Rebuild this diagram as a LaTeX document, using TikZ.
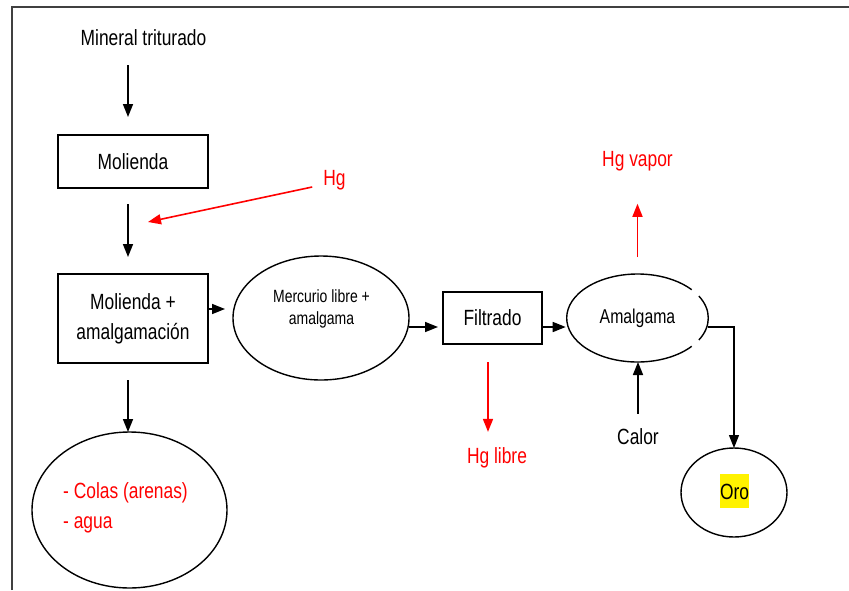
\documentclass[tikz,border=0pt]{standalone}
\usepackage{fontspec}
\setmainfont{Liberation Sans}[FakeStretch=0.79]
\usetikzlibrary{arrows.meta,shapes.geometric}
\tikzset{
  box/.style={draw,line width=1.3pt,inner sep=0pt,outer sep=0pt},
  ell/.style={ellipse,draw,line width=1.4pt,inner sep=0pt,outer sep=0pt},
  txt/.style={inner sep=0pt,anchor=base},
  arr/.style={line width=1.6pt,-{Triangle[length=13pt,width=10pt]}},
}
\begin{document}
\begin{tikzpicture}[x=1pt,y=-1pt,font=\fontsize{22}{30}\selectfont]
\useasboundingbox (0,0) rectangle (849,590);
\draw[line width=1.5pt,black!75](12,590)--(12,7)--(849,7);
%
\node[txt](min) at (143.5,45){Mineral triturado};
\node[box,minimum width=150pt,minimum height=53pt](mol) at (133,161.5){Molienda};
\node[box,minimum width=150pt,minimum height=89pt,align=center](molam) at (133,318.5){Molienda +\\amalgamación};
\node[txt,red](hg) at (334.5,185){Hg};
\coordinate(hgtip) at (148,222);
\node[ell,minimum width=176pt,minimum height=124pt](merc) at (321,318){};
\node[inner sep=0pt,align=center,font=\fontsize{17.7}{22}\selectfont](merct) at (321.5,309){Mercurio libre +\\amalgama};
\node[box,minimum width=99pt,minimum height=52pt](fil) at (492.5,318){Filtrado};
\node[ell,draw=none,minimum width=141.6pt,minimum height=88pt,font=\fontsize{20}{24}\selectfont](amal) at (637.5,318){Amalgama};
\draw[line width=1.4pt](amal.center)++(40:70.8 and 44) arc[start angle=40,end angle=320,x radius=70.8,y radius=44];
\draw[line width=1.4pt](amal.center)++(-30:70.8 and 44) arc[start angle=-30,end angle=30,x radius=70.8,y radius=44];
\node[txt,red](vap) at (637.5,166){Hg vapor};
\node[txt,red](libre) at (497,463){Hg libre};
\node[txt](calor) at (638,444){Calor};
\node[ell,minimum width=106pt,minimum height=89pt](oro) at (734,492.5){};
\node[fill=yellow,inner xsep=0pt,inner ysep=9pt,text height=16pt,text depth=0pt](orot) at (734.5,491){Oro};
\node[ell,minimum width=195pt,minimum height=156pt](colas) at (129.5,510){};
\node[red,inner sep=0pt,anchor=west,align=left](colast) at (63,508){- Colas (arenas)\\- agua};
%
\draw[arr,shorten <=20pt,shorten >=18pt]([xshift=-5pt]mol.north |- min.south)--([xshift=-5pt]mol.north);
\draw[arr,shorten <=16pt,shorten >=17pt]([xshift=-5pt]mol.south)--([xshift=-5pt]molam.north);
\draw[arr,red]([xshift=-11pt,yshift=-2pt]hg.base west)--(hgtip);
\draw[arr,shorten >=8pt]([yshift=9.5pt]molam.east)--([yshift=9.5pt]molam.east -| merc.west);
\draw[arr,shorten >=5pt]([yshift=-9pt]merc.east)--([yshift=-9pt]merc.east -| fil.west);
\draw[arr,shorten >=1pt]([yshift=-9pt]fil.east)--([yshift=-9pt]fil.east -| amal.west);
\draw[arr,red,shorten <=17pt,shorten >=33pt](amal.north)--(amal.north |- vap.south);
\draw[arr,red,shorten <=18pt,shorten >=15pt]([xshift=-4.5pt]fil.south)--([xshift=-4.5pt]fil.south |- libre.north);
\draw[arr,shorten <=14pt](calor.north)--(calor.north |- amal.south);
\draw[arr,line width=1.2pt]([yshift=-9pt]amal.east)-|(oro.north);
\draw[arr,shorten <=17pt]([xshift=-5pt]molam.south)--([xshift=-5pt]molam.south |- colas.north);
\end{tikzpicture}
\end{document}
